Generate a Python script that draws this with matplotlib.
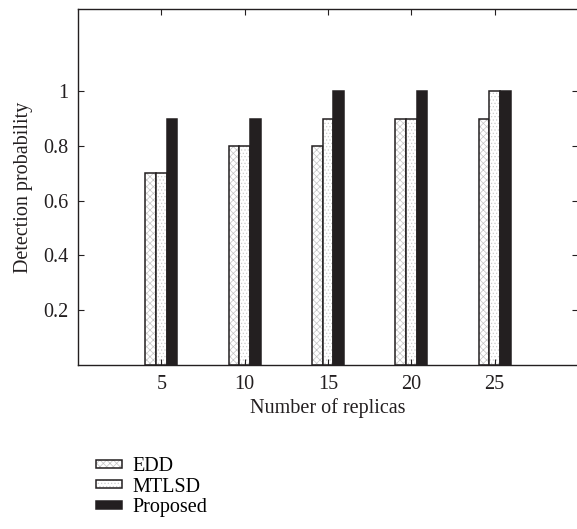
import matplotlib.pyplot as plt
import numpy as np

replicas = ["5", "10", "15", "20", "25"]
edd = [0.7, 0.8, 0.8, 0.9, 0.9]
mtlsd = [0.7, 0.8, 0.9, 0.9, 1.0]
proposed = [0.9, 0.9, 1.0, 1.0, 1.0]
yticks = [0.2, 0.4, 0.6, 0.8, 1.0]
ytick_labels = ["0.2", "0.4", "0.6", "0.8", "1"]

plt.rcParams['font.family'] = ['Liberation Serif', 'DejaVu Serif']
plt.rcParams['font.size'] = 14.5
plt.rcParams['hatch.linewidth'] = 0.5

fig = plt.figure(figsize=(5.77, 5.29), dpi=100)
ax = fig.add_axes([78 / 577, 1 - 365 / 529, 500 / 577, 356 / 529])

x = np.arange(1, len(replicas) + 1)
w = 0.127

handles = []
for off, vals, face, hatch, hcol, name in [
        (-w, edd, 'white', 'xxxxx', '#c4c4c4', 'EDD'),
        (0, mtlsd, 'white', '.....', '#cdcdcd', 'MTLSD'),
        (w, proposed, '#231f20', None, '#231f20', 'Proposed')]:
    # hatch drawn in grey underneath, black outline on top
    b1 = ax.bar(x + off, vals, w, color=face, edgecolor=hcol, hatch=hatch, lw=0)
    b2 = ax.bar(x + off, vals, w, color='none', edgecolor='#231f20', lw=1.1)
    handles.append((b1[0], b2[0]))

ax.set_xlim(0, 6)
ax.set_ylim(0, 1.3)
ax.set_xticks(x)
ax.set_xticklabels(replicas)
ax.set_yticks(yticks)
ax.set_yticklabels(ytick_labels)
ax.tick_params(direction='in', top=True, right=True, length=4, width=0.8,
               colors='#231f20', labelcolor='#231f20', pad=7)
for s in ax.spines.values():
    s.set_color('#231f20')
    s.set_linewidth(1.0)

ax.set_xlabel("Number of replicas", color='#231f20', labelpad=3)
ax.set_ylabel("Detection probability", color='#231f20', labelpad=7)

fig.legend(handles, ["EDD", "MTLSD", "Proposed"], loc='upper left',
           bbox_to_anchor=(96 / 577, 1 - 457 / 529), frameon=False,
           handlelength=1.3, handleheight=0.25, handletextpad=0.5,
           labelspacing=0.08, borderaxespad=0, borderpad=0)

fig.savefig("out.png", dpi=100)
